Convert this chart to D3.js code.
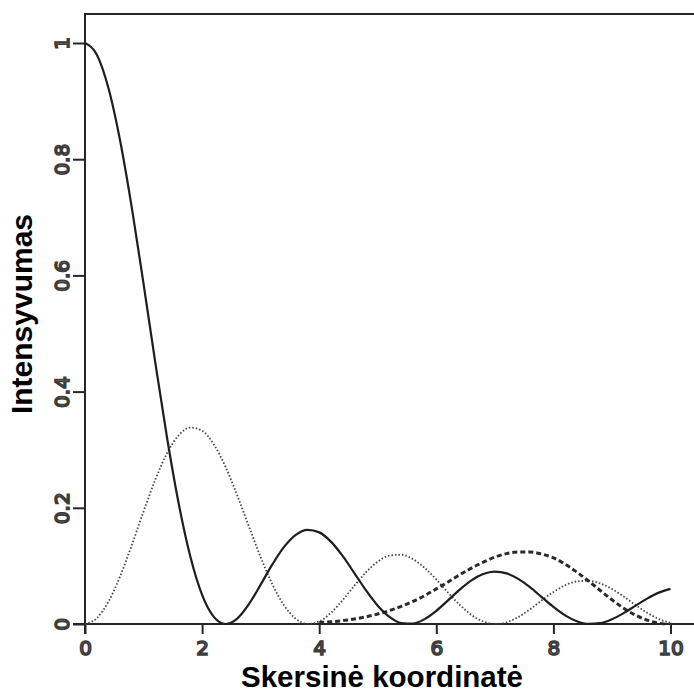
<!DOCTYPE html>
<html>
<head>
<meta charset="utf-8">
<script src="https://cdn.jsdelivr.net/npm/d3@7"></script>
<style>
  html, body { margin: 0; padding: 0; background: #fff; }
  svg { display: block; }
</style>
</head>
<body>
<svg id="chart" width="694" height="693"></svg>
<script>
// Transverse coordinate samples
const xs = [0.0,0.2,0.4,0.6,0.8,1.0,1.2,1.4,1.6,1.8,2.0,2.2,2.4,2.6,2.8,3.0,3.2,3.4,3.6,3.8,
  4.0,4.2,4.4,4.6,4.8,5.0,5.2,5.4,5.6,5.8,6.0,6.2,6.4,6.6,6.8,7.0,7.2,7.4,7.6,7.8,
  8.0,8.2,8.4,8.6,8.8,9.0,9.2,9.4,9.6,9.8,10.0];

// Central-order intensity (solid)
const solidI = [1.0000,0.9801,0.9224,0.8317,0.7162,0.5855,0.4504,0.3214,0.2074,0.1156,
  0.0501,0.0122,0.0000,0.0094,0.0342,0.0677,0.1025,0.1327,0.1535,0.1621,
  0.1577,0.1418,0.1172,0.0877,0.0578,0.0315,0.0122,0.0017,0.0007,0.0084,
  0.0227,0.0407,0.0592,0.0751,0.0859,0.0901,0.0871,0.0776,0.0633,0.0464,
  0.0295,0.0149,0.0048,0.0002,0.0015,0.0082,0.0187,0.0313,0.0437,0.0540,0.0605];

// First-order intensity (dotted)
const dottedI = [0.0000,0.0099,0.0384,0.0822,0.1360,0.1937,0.2483,0.2937,0.3248,0.3381,
  0.3326,0.3091,0.2706,0.2216,0.1679,0.1150,0.0683,0.0321,0.0091,0.0002,
  0.0044,0.0192,0.0411,0.0658,0.0891,0.1073,0.1178,0.1192,0.1118,0.0967,
  0.0766,0.0542,0.0330,0.0156,0.0043,0.0000,0.0029,0.0120,0.0253,0.0406,
  0.0550,0.0666,0.0733,0.0744,0.0697,0.0602,0.0473,0.0330,0.0195,0.0086,0.0019];

// Higher-order intensity (dashed), from x = 4 to its zero near 9.9
const dashedX = [4.0,4.2,4.4,4.6,4.8,5.0,5.2,5.4,5.6,5.8,6.0,6.2,6.4,6.6,6.8,7.0,7.2,7.4,7.6,7.8,
  8.0,8.2,8.4,8.6,8.8,9.0,9.2,9.4,9.6,9.8,9.9];
const dashedI = [0.0024,0.0038,0.0058,0.0086,0.0123,0.0172,0.0231,0.0303,0.0388,0.0488,
  0.0604,0.0724,0.0847,0.0961,0.1063,0.1151,0.1211,0.1239,0.1239,0.1204,
  0.1140,0.1030,0.0894,0.0740,0.0576,0.0417,0.0272,0.0154,0.0066,0.0014,0.0000];

const xTicks = [0, 2, 4, 6, 8, 10];
const xTickLabels = ["0", "2", "4", "6", "8", "10"];
const yTicks = [0, 0.2, 0.4, 0.6, 0.8, 1];
const yTickLabels = ["0", "0.2", "0.4", "0.6", "0.8", "1"];

const xTitle = "Skersinė koordinatė";
const yTitle = "Intensyvumas";

const svg = d3.select("#chart");
const ink = "#262626";

const x = d3.scaleLinear().domain([0, 10]).range([85, 670.5]);
const y = d3.scaleLinear().domain([0, 1]).range([624, 43]);

// Frame: top border and left axis line
svg.append("line").attr("x1", 85).attr("x2", 700).attr("y1", 14).attr("y2", 14)
  .attr("stroke", ink).attr("stroke-width", 2.2);
svg.append("line").attr("x1", 85).attr("x2", 85).attr("y1", 13).attr("y2", 634)
  .attr("stroke", ink).attr("stroke-width", 2);
// Baseline across the full width
svg.append("line").attr("x1", 73).attr("x2", 700).attr("y1", y(0)).attr("y2", y(0))
  .attr("stroke", ink).attr("stroke-width", 2);

const labelStyle = sel => sel
  .attr("font-family", "DejaVu Sans, sans-serif")
  .attr("font-size", 20)
  .attr("fill", "#dcdcdc")
  .attr("stroke", "#3c3c3c")
  .attr("stroke-width", 1.7);

// Bottom axis
const xAxis = d3.axisBottom(x).tickValues(xTicks).tickSize(10)
  .tickFormat((d, i) => xTickLabels[i]);
const gx = svg.append("g").attr("transform", `translate(0,${y(0)})`).call(xAxis);
gx.select(".domain").remove();
gx.selectAll(".tick line").attr("stroke", ink).attr("stroke-width", 2);
gx.selectAll(".tick text").attr("y", 0).attr("dy", 0)
  .attr("transform", "translate(0,31)")
  .call(labelStyle);

// Left axis with rotated labels
const yAxis = d3.axisLeft(y).tickValues(yTicks).tickSize(12)
  .tickFormat((d, i) => yTickLabels[i]);
const gy = svg.append("g").attr("transform", "translate(85,0)").call(yAxis);
gy.select(".domain").remove();
gy.selectAll(".tick line").attr("stroke", ink).attr("stroke-width", 2);
gy.selectAll(".tick text")
  .attr("x", 0).attr("dy", 0)
  .attr("text-anchor", "middle")
  .attr("transform", "translate(-16,0) rotate(-90)")
  .call(labelStyle);

// Curves
const line = d3.line().x(d => x(d[0])).y(d => y(d[1])).curve(d3.curveMonotoneX);

svg.append("path")
  .datum(xs.map((v, i) => [v, dottedI[i]]))
  .attr("d", line).attr("fill", "none")
  .attr("stroke", "#444").attr("stroke-width", 1.8)
  .attr("stroke-dasharray", "1.5,2");

svg.append("path")
  .datum(dashedX.map((v, i) => [v, dashedI[i]]))
  .attr("d", line).attr("fill", "none")
  .attr("stroke", "#2a2a2a").attr("stroke-width", 3)
  .attr("stroke-dasharray", "5,3");

svg.append("path")
  .datum(xs.map((v, i) => [v, solidI[i]]))
  .attr("d", line).attr("fill", "none")
  .attr("stroke", "#1e1e1e").attr("stroke-width", 2.2);

// Axis titles
svg.append("text")
  .attr("x", 382).attr("y", 687)
  .attr("text-anchor", "middle")
  .attr("font-family", "Liberation Sans, Arial, sans-serif")
  .attr("font-weight", "bold").attr("font-size", 29.5)
  .attr("fill", "#000")
  .text(xTitle);

svg.append("text")
  .attr("transform", "translate(32,314) rotate(-90)")
  .attr("text-anchor", "middle")
  .attr("font-family", "Liberation Sans, Arial, sans-serif")
  .attr("font-weight", "bold").attr("font-size", 30)
  .attr("fill", "#000")
  .text(yTitle);
</script>
</body>
</html>
